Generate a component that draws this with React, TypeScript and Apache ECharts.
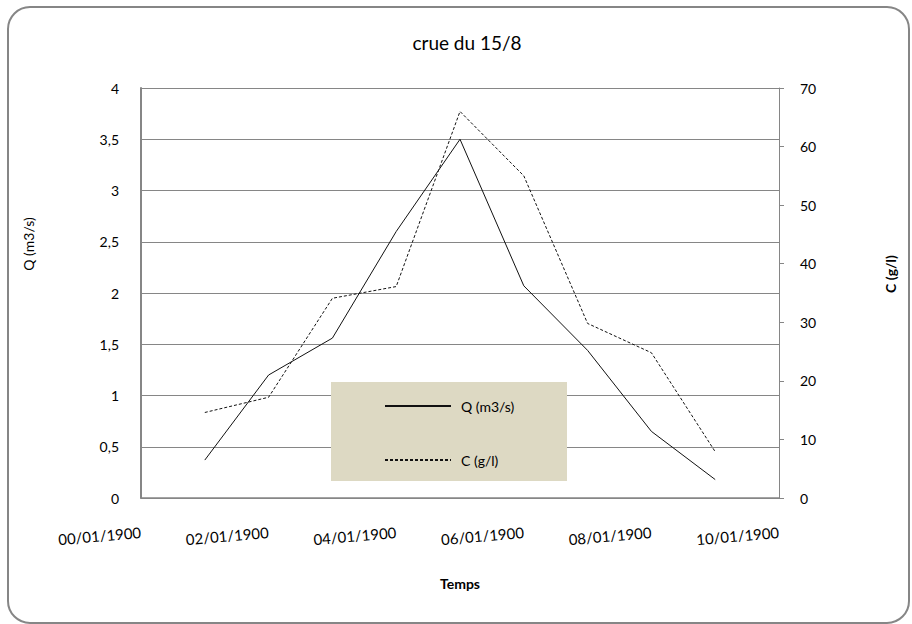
import React, { useEffect, useRef } from "react";
import * as echarts from "echarts";

const days = [1, 2, 3, 4, 5, 6, 7, 8, 9];
const qValues = [0.37, 1.2, 1.56, 2.6, 3.5, 2.07, 1.44, 0.65, 0.18];
const cValues = [14.6, 17.2, 34.1, 36.1, 66, 55, 29.8, 24.8, 7.9];
const dateLabels = ["00/01/1900", "02/01/1900", "04/01/1900", "06/01/1900", "08/01/1900", "10/01/1900"];

const FONT = "Lato, 'Noto Sans', sans-serif";
const GRID = "#868686";

export default function App() {
  const ref = useRef<HTMLDivElement>(null);
  useEffect(() => {
    if (!ref.current) return;
    const chart = echarts.init(ref.current, undefined, { renderer: "svg" });
    const qData = days.map((d, i) => [d, qValues[i]]);
    const cData = days.map((d, i) => [d, cValues[i]]);
    chart.setOption({
      animation: false,
      backgroundColor: "#ffffff",
      textStyle: { fontFamily: FONT },
      title: {
        text: "crue du 15/8",
        left: 467,
        top: 33,
        padding: 0,
        textAlign: "center",
        textStyle: { fontFamily: FONT, fontSize: 19, fontWeight: "normal", color: "#000" },
      },
      grid: { left: 141, right: 133, top: 88, bottom: 126 },
      legend: {
        orient: "vertical",
        left: 384,
        top: 399,
        padding: 0,
        itemWidth: 66,
        itemHeight: 14,
        itemGap: 40,
        z: 10,
        itemStyle: { opacity: 0 },
        textStyle: { fontFamily: FONT, fontSize: 14, color: "#000", padding: [0, 0, 0, 5] },
        data: ["Q (m3/s)", "C (g/l)"],
      },
      xAxis: {
        type: "value",
        min: 0,
        max: 10,
        interval: 2,
        axisLine: { show: true, lineStyle: { color: GRID, width: 1.5 } },
        axisTick: { show: false },
        splitLine: { show: false },
        axisLabel: {
          rotate: 5,
          margin: 34,
          fontFamily: FONT,
          fontSize: 15,
          color: "#000",
          formatter: (v: number) => dateLabels[Math.round(v / 2)],
        },
      },
      yAxis: [
        {
          type: "value",
          min: 0,
          max: 4,
          interval: 0.5,
          position: "left",
          axisLine: { show: true, lineStyle: { color: GRID, width: 2 } },
          axisTick: { show: false },
          splitLine: { show: true, lineStyle: { color: GRID, width: 1 } },
          axisLabel: {
            margin: 22,
            fontFamily: FONT,
            fontSize: 14,
            color: "#000",
            formatter: (v: number) => String(v).replace(".", ","),
          },
        },
        {
          type: "value",
          min: 0,
          max: 70,
          interval: 10,
          position: "right",
          axisLine: { show: true, lineStyle: { color: GRID, width: 1 } },
          axisTick: { show: true, length: 5, lineStyle: { color: GRID } },
          splitLine: { show: false },
          axisLabel: { margin: 21, fontFamily: FONT, fontSize: 14, color: "#000" },
        },
      ],
      series: [
        {
          name: "Q (m3/s)",
          type: "line",
          yAxisIndex: 0,
          data: qData,
          symbol: "none",
          z: 5,
          lineStyle: { color: "#111", width: 1 },
          itemStyle: { color: "#111" },
        },
        {
          name: "C (g/l)",
          type: "line",
          yAxisIndex: 1,
          data: cData,
          symbol: "none",
          z: 5,
          lineStyle: { color: "#111", width: 1, type: [3, 2] },
          itemStyle: { color: "#111" },
        },
      ],
      graphic: [
        {
          type: "rect",
          z: 3,
          shape: { x: 8, y: 7, width: 901, height: 616, r: 22 },
          style: { fill: "none", stroke: GRID, lineWidth: 2 },
        },
        {
          type: "rect",
          z: 3,
          shape: { x: 331, y: 382, width: 236, height: 99 },
          style: { fill: "#DDD9C3" },
        },
        {
          type: "text",
          x: 28,
          y: 244,
          rotation: Math.PI / 2,
          style: { text: "Q (m3/s)", font: `14px ${FONT}`, fill: "#000", align: "center", verticalAlign: "middle" },
        },
        {
          type: "text",
          x: 890,
          y: 274,
          rotation: Math.PI / 2,
          style: { text: "C (g/l)", font: `bold 14px ${FONT}`, fill: "#000", align: "center", verticalAlign: "middle" },
        },
        {
          type: "text",
          x: 460,
          y: 583,
          style: { text: "Temps", font: `bold 14px ${FONT}`, fill: "#000", align: "center", verticalAlign: "middle" },
        },
      ],
    });
    return () => chart.dispose();
  }, []);
  return <div ref={ref} style={{ position: "fixed", left: 0, top: 0, width: 912, height: 624 }} />;
}
